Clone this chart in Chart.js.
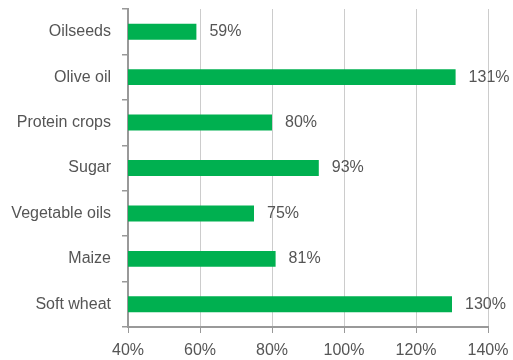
<!DOCTYPE html>
<html>
<head>
<meta charset="utf-8">
<script src="https://cdn.jsdelivr.net/npm/chart.js@4"></script>
<style>
  html, body { margin: 0; padding: 0; background: #fff; }
  #wrap { width: 513px; height: 360px; position: relative; }
</style>
</head>
<body>
<div id="wrap"><canvas id="barChart"></canvas></div>
<script>
// data
const categories = ['Oilseeds', 'Olive oil', 'Protein crops', 'Sugar', 'Vegetable oils', 'Maize', 'Soft wheat'];
const shares = [59, 131, 80, 93, 75, 81, 130];
const xTicks = [40, 60, 80, 100, 120, 140];

const textColor = '#555555';
const axisColor = '#999999';
const fontFamily = '"Liberation Sans", Arial, sans-serif';

// writes the value next to the end of each bar
const valueLabels = {
    id: 'valueLabels',
    afterDatasetsDraw(chart) {
        const ctx = chart.ctx;
        const meta = chart.getDatasetMeta(0);
        ctx.save();
        ctx.font = '16px ' + fontFamily;
        ctx.fillStyle = textColor;
        ctx.textAlign = 'left';
        ctx.textBaseline = 'middle';
        meta.data.forEach((bar, i) => {
            ctx.fillText(shares[i] + '%', bar.x + 13, bar.y);
        });
        ctx.restore();
    }
};

new Chart(document.getElementById('barChart').getContext('2d'), {
    type: 'bar',
    data: {
        labels: categories,
        datasets: [{
            data: shares,
            backgroundColor: '#00b050',
            borderWidth: 0,
            barPercentage: 0.7,
            categoryPercentage: 0.5
        }]
    },
    plugins: [valueLabels],
    options: {
        indexAxis: 'y',
        responsive: true,
        maintainAspectRatio: false,
        animation: false,
        layout: { padding: { top: 9, right: 25, bottom: 0, left: 0 } },
        plugins: {
            legend: { display: false },
            tooltip: { enabled: false }
        },
        scales: {
            x: {
                min: 40,
                max: 140,
                afterBuildTicks: scale => { scale.ticks = xTicks.map(v => ({ value: v })); },
                afterFit: scale => {
                    scale.height = 33;
                    scale.paddingLeft = 0;
                    scale.paddingRight = 0;
                },
                ticks: {
                    color: textColor,
                    font: { family: fontFamily, size: 16 },
                    padding: 8,
                    maxRotation: 0,
                    callback: v => v + '%'
                },
                grid: {
                    color: c => (c.tick && c.tick.value === 40) ? 'rgba(0,0,0,0)' : '#cccccc',
                    tickColor: axisColor,
                    tickLength: 6,
                    lineWidth: 1
                },
                border: { color: axisColor, width: 2 }
            },
            y: {
                afterFit: scale => {
                    scale.width = 128;
                    scale.paddingTop = 0;
                    scale.paddingBottom = 0;
                },
                ticks: {
                    color: textColor,
                    font: { family: fontFamily, size: 16 },
                    padding: 11
                },
                grid: {
                    offset: true,
                    drawOnChartArea: false,
                    tickColor: axisColor,
                    tickLength: 6,
                    lineWidth: 1.5
                },
                border: { color: axisColor, width: 2 }
            }
        }
    }
});
</script>
</body>
</html>
